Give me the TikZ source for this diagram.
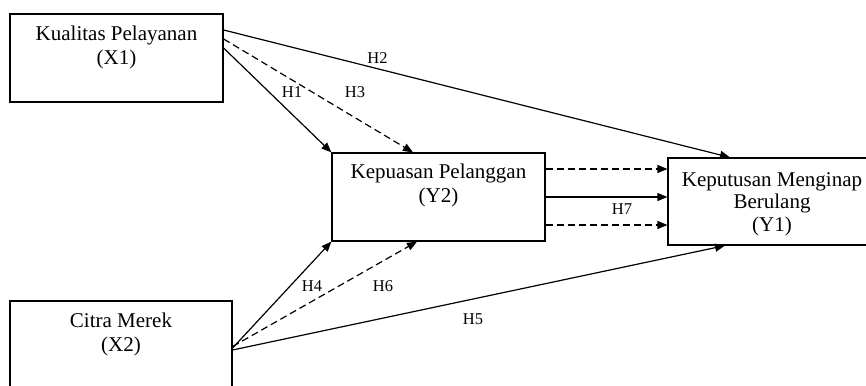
\documentclass[tikz,border=0pt]{standalone}
\usepackage{fontspec}
\setmainfont{Liberation Serif}
\usetikzlibrary{arrows.meta,calc}
\begin{document}
\begin{tikzpicture}[x=1pt,y=1pt,
  box/.style={draw, line width=1.2pt, inner sep=0pt},
  txt/.style={align=center, inner sep=0pt, font=\fontsize{21}{24}\selectfont},
  hyp/.style={inner sep=0pt, font=\fontsize{16.5}{19}\selectfont},
  arr/.style={line width=1.2pt, -{Triangle[length=10pt,width=8pt]}},
  dsh/.style={arr, dash pattern=on 7pt off 4pt}]
\clip (0,0) rectangle (866,-385);

% constructs
\node[box, minimum width=213pt, minimum height=88pt] (x1) at (116.5,-58) {};
\node[box, minimum width=222pt, minimum height=88pt] (x2) at (121,-345) {};
\node[box, minimum width=213pt, minimum height=88pt] (y2) at (438.5,-197) {};
\node[box, minimum width=210pt, minimum height=87pt] (y1) at (773,-201.5) {};

\node[txt, anchor=north] (x1t) at (116.5,-25.7) {Kualitas Pelayanan\\(X1)};
\node[txt, anchor=north] (x2t) at (121,-313) {Citra Merek\\(X2)};
\node[txt, anchor=north] (y2t) at (438.5,-164) {Kepuasan Pelanggan\\(Y2)};
\node[txt, anchor=north, font=\fontsize{21}{22.5}\selectfont] (y1t) at (772,-172) {Keputusan Menginap\\Berulang\\(Y1)};

% paths from Kualitas Pelayanan
\draw[arr] ([yshift=28pt]x1.east) -- ([xshift=-43pt]y1.north);
\draw[dsh] ([yshift=19pt]x1.east) -- ([xshift=-25.5pt]y2.north);
\draw[arr] ([yshift=10pt]x1.east) -- (y2.north west);

% paths from Citra Merek
\draw[arr] ([yshift=-3pt]x2.east) -- (y2.south west);
\draw[dsh] ([yshift=-1.5pt]x2.east) -- ([xshift=-21.5pt]y2.south);
\draw[arr] ([yshift=-5pt]x2.east) -- ([xshift=-48pt]y1.south);

% paths from Kepuasan Pelanggan
\draw[dsh] ([yshift=28pt]y2.east) -- ([yshift=28pt]y2.east -| y1.west);
\draw[arr] (y2.east) -- (y2.east -| y1.west);
\draw[dsh] ([yshift=-28pt]y2.east) -- ([yshift=-28pt]y2.east -| y1.west);

% hypothesis labels
\node[hyp] (h1) at (292,-92) {H1};
\node[hyp] (h2) at (377.5,-58) {H2};
\node[hyp] (h3) at (355,-92) {H3};
\node[hyp] (h4) at (312,-286) {H4};
\node[hyp] (h5) at (473,-319.5) {H5};
\node[hyp] (h6) at (383,-286) {H6};
\node[hyp] (h7) at (622,-209.5) {H7};
\end{tikzpicture}
\end{document}
